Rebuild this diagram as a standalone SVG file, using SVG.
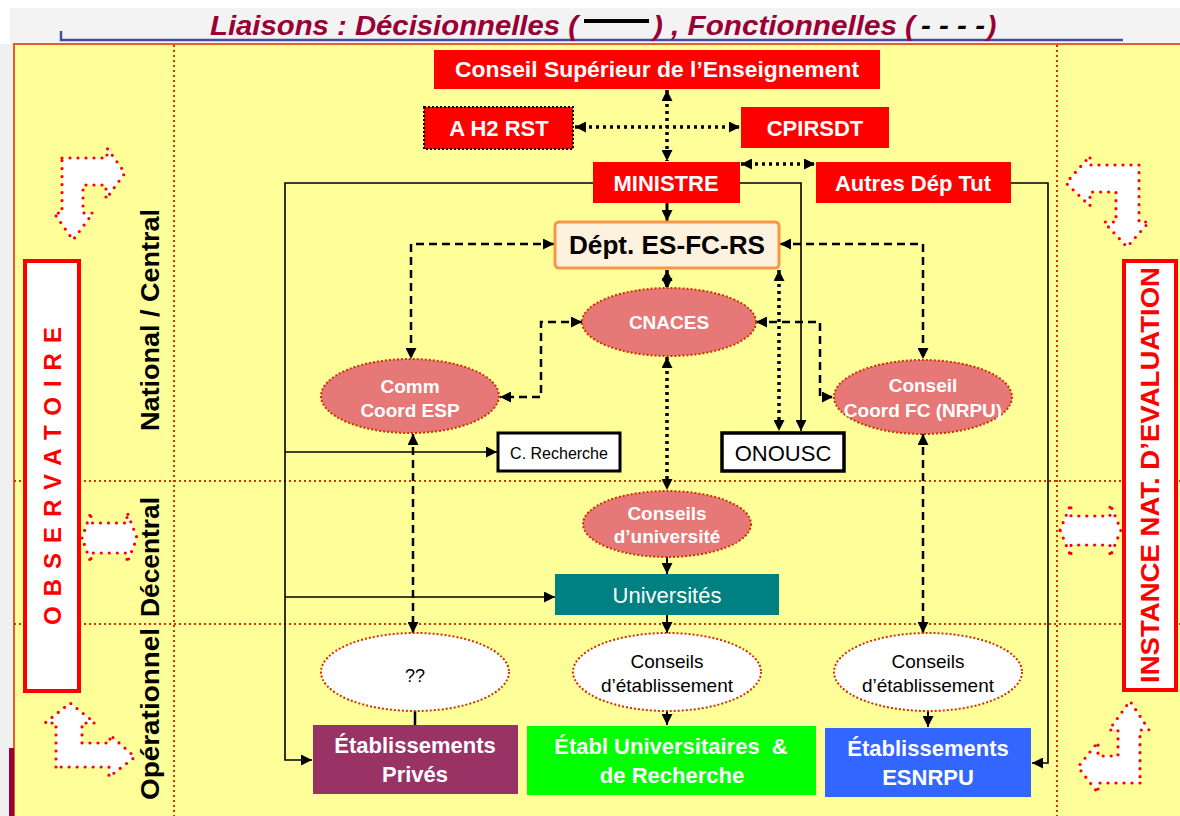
<svg xmlns="http://www.w3.org/2000/svg" width="1180" height="816" viewBox="0 0 1180 816">
<style>
text{font-family:"Liberation Sans",Arial,sans-serif}
.ttl{font-size:28px;font-weight:bold;font-style:italic;fill:#990033}
.red{fill:#ff0000}
.wb{fill:#fff;font-weight:bold;text-anchor:middle}
.bk{fill:#000;text-anchor:middle}
.pink{fill:#e67878;stroke:#cc3300;stroke-width:2;stroke-dasharray:2 2}
.wel{fill:#fff;stroke:#cc3300;stroke-width:2;stroke-dasharray:2 2}
.grid{stroke:#cc3300;stroke-width:2;stroke-dasharray:2 3;fill:none}
.blk{fill:#fff;stroke:#ff0000;stroke-width:3.2;stroke-dasharray:0 8;stroke-linecap:round}
.sol{fill:none;stroke:#000;stroke-width:1.6}
.dsh{fill:none;stroke:#000;stroke-width:2.5;stroke-dasharray:8 5}
.dot{fill:none;stroke:#000;stroke-width:3.5;stroke-dasharray:3 4}
.side{fill:#000;font-weight:bold;font-size:26px;text-anchor:middle}
</style>
<defs>
<marker id="ah" viewBox="0 0 10 10" refX="10" refY="5" markerWidth="11" markerHeight="11" orient="auto-start-reverse" markerUnits="userSpaceOnUse">
<path d="M0,0 L10,5 L0,10 z" fill="#000"/>
</marker>
</defs>
<rect x="0" y="0" width="1180" height="816" fill="#ffffff"/>
<rect x="10" y="8" width="1170" height="36" fill="#f3f3f3"/>
<rect x="0" y="44" width="13" height="772" fill="#f0f0f0"/>
<rect x="14" y="44" width="1170" height="775" fill="#ffff99" stroke="#e0602a" stroke-width="2"/>
<rect x="9" y="748" width="5" height="68" fill="#990033"/>

<g id="title">
<path d="M61 31 V40 H1123" fill="none" stroke="#4b4b9b" stroke-width="2.5"/>
<text class="ttl" x="210" y="35" textLength="368" lengthAdjust="spacingAndGlyphs">Liaisons : Décisionnelles (</text>
<line x1="584" y1="21" x2="649" y2="21" stroke="#000" stroke-width="4"/>
<text class="ttl" x="653" y="35" textLength="262" lengthAdjust="spacingAndGlyphs">) , Fonctionnelles (</text>
<text x="921" y="35" font-size="28" font-weight="bold" font-style="italic" fill="#000" textLength="64" lengthAdjust="spacingAndGlyphs">- - - -</text>
<text class="ttl" x="987" y="35">)</text>
</g>

<g id="grid">
<line class="grid" x1="174" y1="45" x2="174" y2="816"/>
<line class="grid" x1="1057" y1="45" x2="1057" y2="816"/>
<line class="grid" x1="14" y1="481" x2="1180" y2="481"/>
<line class="grid" x1="14" y1="624" x2="1180" y2="624"/>
</g>

<g id="levels">
<text class="side" transform="translate(159,320) rotate(-90)" textLength="222" lengthAdjust="spacingAndGlyphs">National / Central</text>
<text class="side" transform="translate(159,557) rotate(-90)" textLength="120" lengthAdjust="spacingAndGlyphs">Décentral</text>
<text class="side" transform="translate(159,714) rotate(-90)" textLength="172" lengthAdjust="spacingAndGlyphs">Opérationnel</text>
</g>

<g id="observatoire">
<rect x="25" y="261" width="54" height="430" fill="#fff" stroke="#ff0000" stroke-width="4"/>
<text transform="translate(61,625) rotate(-90)" font-size="24" font-weight="bold" fill="#ff0000" textLength="298" lengthAdjust="spacing">OBSERVATOIRE</text>
</g>
<g id="instance">
<rect x="1124" y="261" width="52" height="429" fill="#fff" stroke="#ff0000" stroke-width="4"/>
<text transform="translate(1159,683) rotate(-90)" font-size="26" font-weight="bold" fill="#ff0000" textLength="416" lengthAdjust="spacingAndGlyphs">INSTANCE NAT. D’EVALUATION</text>
</g>

<g id="block-arrows">
<polygon class="blk" points="62,158 107,158 107,148 125,173 106,199 106,185 83,185 83,213 93,213 73,240 54,213 62,213"/>
<polygon class="blk" points="1139,165 1090,165 1090,156 1066,183 1090,206 1090,192 1116,192 1116,222 1104,222 1127,247 1149,222 1139,222"/>
<polygon class="blk" points="56,767 56,723 45,723 70,703 95,723 82,723 82,743 110,743 110,735 135,757 109,777 109,767"/>
<polygon class="blk" points="1140,783 1098,783 1098,793 1078,767 1098,742 1098,756 1118,756 1118,730 1109,730 1130,701 1149,730 1140,730"/>
<polygon class="blk" points="82,538 91,512 91,523 127,523 127,512 137,538 127,563 127,553 91,553 91,563"/>
<polygon class="blk" points="1060,530 1071,504 1071,516 1110,516 1110,504 1121,530 1110,557 1110,545 1071,545 1071,557"/>
</g>

<g id="connectors">
<path class="sol" d="M593 183 H285 V760 H312" marker-end="url(#ah)"/>
<path class="sol" d="M285 452 H497" marker-end="url(#ah)"/>
<path class="sol" d="M285 597 H555" marker-end="url(#ah)"/>
<path class="sol" d="M740 183 H801 V431" marker-end="url(#ah)"/>
<path class="sol" d="M1011 183 H1048 V763 H1032" marker-end="url(#ah)"/>
<path class="sol" style="stroke-width:3" d="M667 203 V221" marker-end="url(#ah)"/>
<path class="sol" style="stroke-width:2" d="M667 557 V574" marker-end="url(#ah)"/>
<path class="sol" style="stroke-width:2" d="M667 615 V633" marker-end="url(#ah)"/>
<path class="sol" style="stroke-width:2" d="M667 699 V725" marker-end="url(#ah)"/>
<path class="sol" style="stroke-width:2" d="M928 699 V727" marker-end="url(#ah)"/>
<path class="sol" style="stroke-width:2.5" d="M415 711 V725"/>

<path class="dsh" d="M554 244 H411 V359" marker-start="url(#ah)" marker-end="url(#ah)"/>
<path class="dsh" d="M780 244 H923 V359" marker-start="url(#ah)" marker-end="url(#ah)"/>
<path class="dsh" d="M582 322 H541 V397 H500" marker-start="url(#ah)" marker-end="url(#ah)"/>
<path class="dsh" d="M756 322 H820 V397 H833" marker-start="url(#ah)" marker-end="url(#ah)"/>
<path class="dsh" d="M413 434 V633" marker-start="url(#ah)" marker-end="url(#ah)"/>
<path class="dsh" d="M923 434 V633" marker-start="url(#ah)" marker-end="url(#ah)"/>

<path class="dot" d="M667 90 V161" marker-start="url(#ah)" marker-end="url(#ah)"/>
<path class="dot" d="M575 127 H740" marker-start="url(#ah)" marker-end="url(#ah)"/>
<path class="dot" d="M741 164 H815" marker-start="url(#ah)" marker-end="url(#ah)"/>
<path class="dot" d="M667 270 V289" marker-start="url(#ah)" marker-end="url(#ah)"/>
<path class="dot" d="M779 270 V431" marker-start="url(#ah)" marker-end="url(#ah)"/>
<path class="dot" d="M667 357 V490" marker-start="url(#ah)" marker-end="url(#ah)"/>
</g>

<g id="cse">
<rect class="red" x="434" y="50" width="446" height="39"/>
<text class="wb" x="657" y="77" font-size="22" textLength="404" lengthAdjust="spacingAndGlyphs">Conseil Supérieur de l’Enseignement</text>
</g>
<g id="ah2rst">
<rect class="red" x="424" y="107" width="149" height="42" stroke="#000" stroke-width="2" stroke-dasharray="2 2"/>
<text class="wb" x="499" y="136" font-size="22">A H2 RST</text>
</g>
<g id="cpirsdt">
<rect class="red" x="741" y="107" width="148" height="41"/>
<text class="wb" x="815" y="136" font-size="22">CPIRSDT</text>
</g>
<g id="ministre">
<rect class="red" x="593" y="162" width="147" height="41"/>
<text class="wb" x="666" y="191" font-size="22">MINISTRE</text>
</g>
<g id="autres">
<rect class="red" x="816" y="162" width="195" height="41"/>
<text class="wb" x="913" y="191" font-size="22">Autres Dép Tut</text>
</g>
<g id="dept">
<rect x="555" y="222" width="224" height="46" rx="4" fill="#fcf2de" stroke="#f79646" stroke-width="3"/>
<text x="667" y="254" font-size="26" font-weight="bold" fill="#000" text-anchor="middle" textLength="196" lengthAdjust="spacingAndGlyphs">Dépt. ES-FC-RS</text>
</g>
<g id="cnaces">
<ellipse class="pink" cx="669" cy="322" rx="87" ry="34"/>
<text class="wb" x="669" y="329" font-size="19">CNACES</text>
</g>
<g id="commesp">
<ellipse class="pink" cx="410" cy="396" rx="89" ry="37"/>
<text class="wb" x="410" y="393" font-size="19">Comm</text>
<text class="wb" x="410" y="417" font-size="19">Coord ESP</text>
</g>
<g id="conseilfc">
<ellipse class="pink" cx="923" cy="397" rx="89" ry="37"/>
<text class="wb" x="923" y="392" font-size="19">Conseil</text>
<text class="wb" x="923" y="417" font-size="19">Coord FC (NRPU)</text>
</g>
<g id="crecherche">
<rect x="498" y="433" width="122" height="38" fill="#fff" stroke="#000" stroke-width="3"/>
<text class="bk" x="559" y="459" font-size="16">C. Recherche</text>
</g>
<g id="onousc">
<rect x="722" y="433" width="122" height="38" fill="#fff" stroke="#000" stroke-width="3.5"/>
<text class="bk" x="783" y="461" font-size="22">ONOUSC</text>
</g>
<g id="conseilsuniv">
<ellipse class="pink" cx="667" cy="524" rx="84" ry="33"/>
<text class="wb" x="667" y="520" font-size="19">Conseils</text>
<text class="wb" x="667" y="543" font-size="19">d’université</text>
</g>
<g id="universites">
<rect x="555" y="574" width="224" height="41" fill="#008080"/>
<text x="667" y="603" font-size="22" fill="#fff" text-anchor="middle">Universités</text>
</g>
<g id="qq">
<ellipse class="wel" cx="415" cy="672" rx="94" ry="39"/>
<text class="bk" x="415" y="682" font-size="18">??</text>
</g>
<g id="cetab1">
<ellipse class="wel" cx="667" cy="672" rx="94" ry="39"/>
<text class="bk" x="667" y="668" font-size="19">Conseils</text>
<text class="bk" x="667" y="692" font-size="19">d’établissement</text>
</g>
<g id="cetab2">
<ellipse class="wel" cx="928" cy="672" rx="94" ry="39"/>
<text class="bk" x="928" y="668" font-size="19">Conseils</text>
<text class="bk" x="928" y="692" font-size="19">d’établissement</text>
</g>
<g id="prives">
<rect x="313" y="725" width="205" height="69" fill="#993366"/>
<text class="wb" x="415" y="753" font-size="22">Établissements</text>
<text class="wb" x="415" y="782" font-size="22">Privés</text>
</g>
<g id="etabluniv">
<rect x="527" y="726" width="289" height="69" fill="#00ff00"/>
<text class="wb" x="671" y="754" font-size="22">Établ Universitaires &#160;&amp;</text>
<text class="wb" x="672" y="783" font-size="22">de Recherche</text>
</g>
<g id="esnrpu">
<rect x="825" y="728" width="206" height="69" fill="#3366ff"/>
<text class="wb" x="928" y="756" font-size="22">Établissements</text>
<text class="wb" x="928" y="785" font-size="22">ESNRPU</text>
</g>
</svg>
